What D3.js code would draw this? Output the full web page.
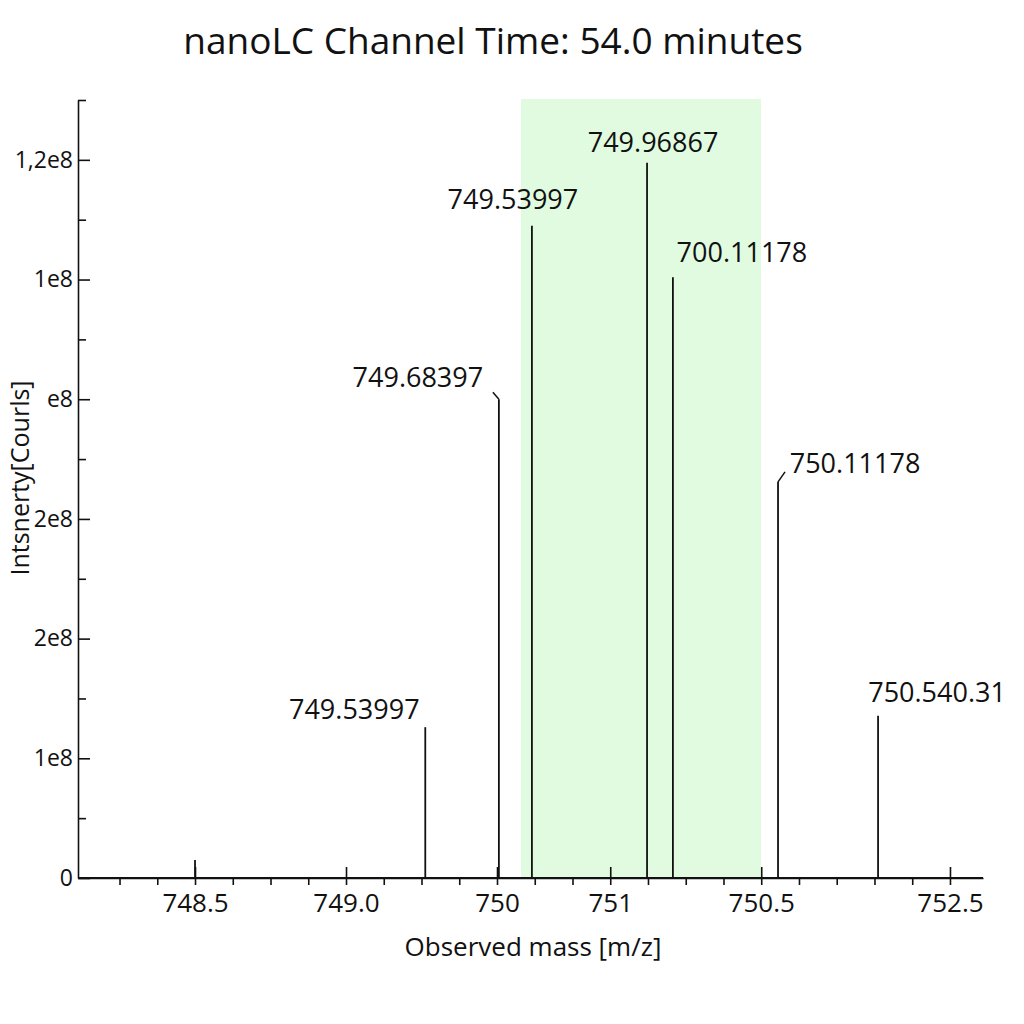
<!DOCTYPE html>
<html>
<head>
<meta charset="utf-8">
<script src="https://cdn.jsdelivr.net/npm/d3@7"></script>
<style>
  body { margin: 0; background: #fff; }
  text { font-family: "Open Sans", "Noto Sans", sans-serif; fill: #111; }
  .axis path, .axis line { stroke: #111; stroke-width: 1.6; }
</style>
</head>
<body>
<div id="chart"></div>
<script>
  "use strict";

  // Peak positions (m/z) and intensities
  var peakMz = [748.5, 749.72, 750.11, 750.285, 750.895, 751.032, 751.589, 752.119];
  var peakIntensity = [3.0e6, 2.52e7, 8.0e7, 1.09e8, 1.195e8, 1.004e8, 6.62e7, 2.71e7];
  var peakLabels = [null, '749.53997', '749.68397', '749.53997', '749.96867', '700.11178', '750.11178', '750.540.31'];

  // Highlighted window (m/z)
  var bandMz = [750.227, 751.499];

  // Axis ticks: the labels in the source do not follow the values
  var xMajorTicks = [748.5, 749.3, 750.1, 750.7, 751.5, 752.5];
  var xMajorLabels = ['748.5', '749.0', '750', '751', '750.5', '752.5'];
  var yMajorTicks = [0, 2e7, 4e7, 6e7, 8e7, 1e8, 1.2e8];
  var yMajorLabels = ['0', '1e8', '2e8', '2e8', 'e8', '1e8', '1,2e8'];

  var W = 1024, H = 1024;
  var margin = { left: 78, right: 41, top: 100, bottom: 146 };

  var svg = d3.select('#chart').append('svg')
      .attr('width', W)
      .attr('height', H);

  var x = d3.scaleLinear()
      .domain([747.88, 752.675])
      .range([margin.left, W - margin.right]);

  var y = d3.scaleLinear()
      .domain([0, 1.3e8])
      .range([H - margin.bottom, margin.top]);

  // Green highlight band
  svg.append('rect')
      .attr('x', x(bandMz[0]))
      .attr('y', y(1.3e8) - 1)
      .attr('width', x(bandMz[1]) - x(bandMz[0]))
      .attr('height', y(0) - y(1.3e8) + 1)
      .attr('fill', '#e0fbe0');

  // Minor ticks
  var xMinor = d3.range(0, 23).map(function(i) { return +(748.1 + 0.2 * i).toFixed(1); })
      .filter(function(v) { return xMajorTicks.indexOf(v) < 0; });
  var yMinor = d3.range(0, 7).map(function(i) { return 1e7 + 2e7 * i; });

  svg.append('g')
      .attr('class', 'axis')
      .attr('transform', 'translate(0,' + y(0) + ')')
      .call(d3.axisBottom(x).tickValues(xMinor).tickSize(7).tickFormat(''))
      .select('.domain').remove();

  svg.append('g')
      .attr('class', 'axis')
      .attr('transform', 'translate(' + x.range()[0] + ',0)')
      .call(d3.axisLeft(y).tickValues(yMinor).tickSize(-8).tickFormat(''))
      .select('.domain').remove();

  // Major x axis
  var xAxis = svg.append('g')
      .attr('class', 'axis')
      .attr('transform', 'translate(0,' + y(0) + ')')
      .call(d3.axisBottom(x)
        .tickValues(xMajorTicks)
        .tickSize(7)
        .tickSizeOuter(0)
        .tickPadding(9)
        .tickFormat(function(d, i) { return xMajorLabels[i]; }));
  xAxis.selectAll('.tick').append('line').attr('y2', -11);
  xAxis.selectAll('text').style('font-size', '26px').attr('fill', '#111');

  // Major y axis, ticks pointing inwards
  var yAxis = svg.append('g')
      .attr('class', 'axis')
      .attr('transform', 'translate(' + x.range()[0] + ',0)')
      .call(d3.axisLeft(y)
        .tickValues(yMajorTicks)
        .tickSizeInner(-12)
        .tickSizeOuter(0)
        .tickPadding(5)
        .tickFormat(function(d, i) { return yMajorLabels[i]; }));
  yAxis.selectAll('text').style('font-size', '23px').attr('fill', '#111');

  // Peaks
  var peaks = peakMz.map(function(mz, i) {
    return { mz: mz, intensity: peakIntensity[i], label: peakLabels[i] };
  });

  svg.append('g').selectAll('line')
      .data(peaks)
      .enter().append('line')
      .attr('x1', function(d) { return x(d.mz); })
      .attr('x2', function(d) { return x(d.mz); })
      .attr('y1', y(0))
      .attr('y2', function(d) { return y(d.intensity); })
      .attr('stroke', '#111')
      .attr('stroke-width', 1.8);

  // Label placement relative to each peak top: [dx, dy]
  var labelOffsets = [null, [-71, -8], [-81, -12], [-19, -17], [6, -11], [69, -15], [77, -9], [59, -14]];
  // Short leader hooks on two peaks: [dx, dy]
  var hooks = [null, null, [-6, -7], null, null, null, [7, -10], null];

  peaks.forEach(function(d, i) {
    var px = x(d.mz), py = y(d.intensity);
    if (hooks[i]) {
      svg.append('line')
          .attr('x1', px).attr('y1', py)
          .attr('x2', px + hooks[i][0]).attr('y2', py + hooks[i][1])
          .attr('stroke', '#111')
          .attr('stroke-width', 1.5);
    }
    if (d.label) {
      svg.append('text')
          .attr('x', px + labelOffsets[i][0])
          .attr('y', py + labelOffsets[i][1])
          .attr('text-anchor', 'middle')
          .style('font-size', '27px')
          .text(d.label);
    }
  });

  // Axis line on top of the band
  svg.append('line')
      .attr('x1', x.range()[0]).attr('x2', x.range()[1])
      .attr('y1', y(0)).attr('y2', y(0))
      .attr('stroke', '#111').attr('stroke-width', 1.8);

  // Title and axis titles
  svg.append('text')
      .attr('x', 493)
      .attr('y', 54)
      .attr('text-anchor', 'middle')
      .style('font-size', '37px')
      .text('nanoLC Channel Time: 54.0 minutes');

  svg.append('text')
      .attr('x', 533)
      .attr('y', 956)
      .attr('text-anchor', 'middle')
      .style('font-size', '26px')
      .text('Observed mass [m/z]');

  svg.append('text')
      .attr('transform', 'translate(29,478) rotate(-90)')
      .attr('text-anchor', 'middle')
      .style('font-size', '25px')
      .text('Intsnerty[Courls]');
</script>
</body>
</html>
